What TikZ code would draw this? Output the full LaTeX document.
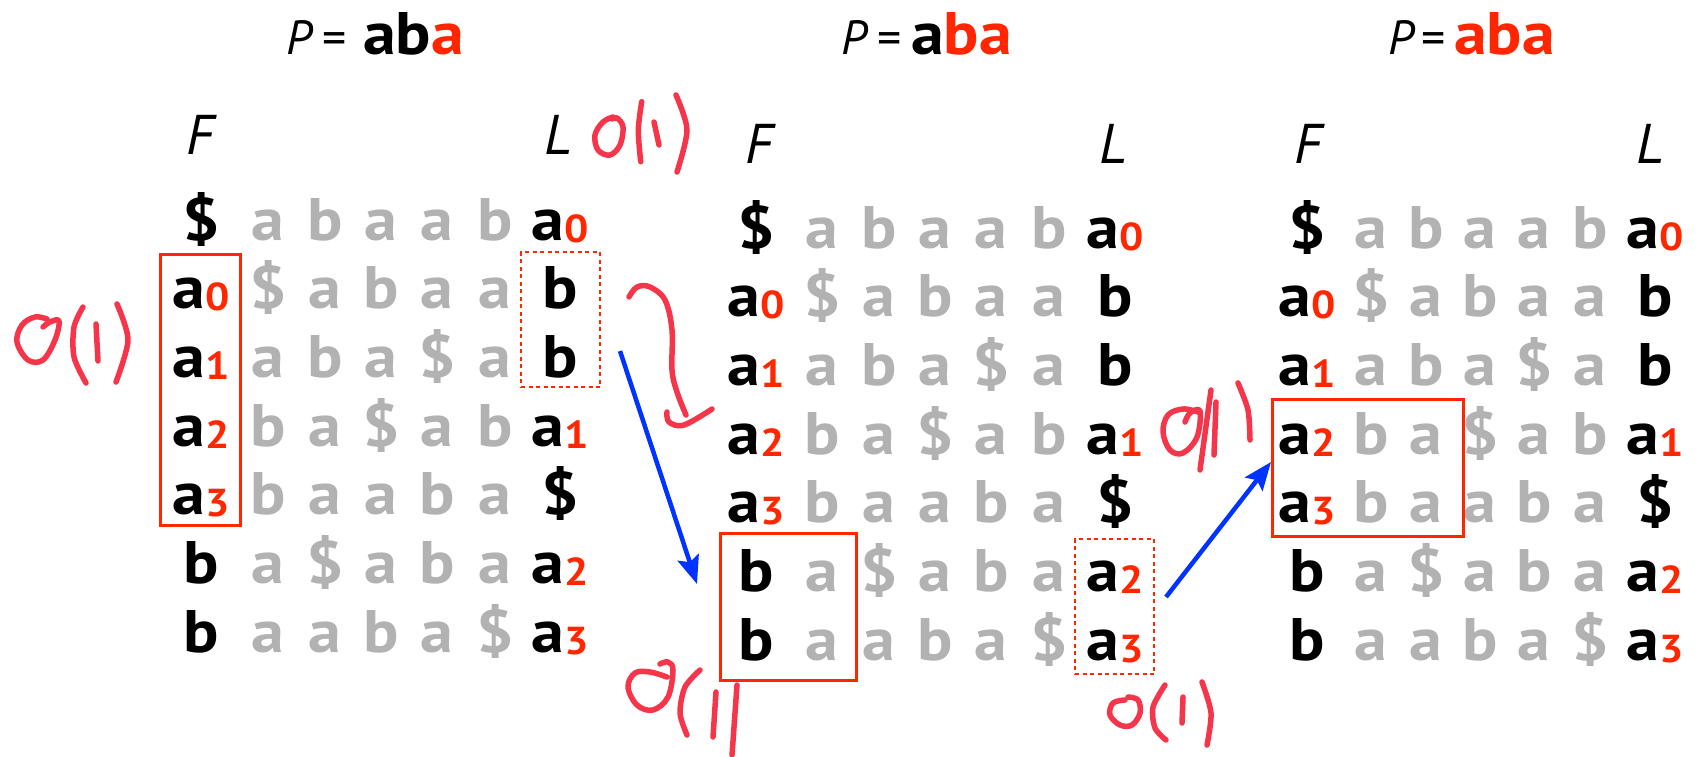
\documentclass[tikz,border=0pt]{standalone}
\usepackage{fontspec}
\setmainfont{PT Sans}
\newfontfamily\gridfam{PT Sans}[FakeStretch=1.1]
\usetikzlibrary{arrows.meta}
\definecolor{gry}{RGB}{178,178,178}
\definecolor{sub}{RGB}{255,38,0}
\definecolor{pen}{RGB}{245,54,74}
\definecolor{arrowblue}{RGB}{0,51,255}
\newcommand\gbf{\gridfam\fontsize{60}{60}\selectfont\bfseries}
\newcommand\sbn[1]{{\gridfam\fontsize{39}{39}\selectfont\bfseries\color{sub}\raisebox{-2pt}{#1}}}
\newcommand\itl{\fontsize{56}{56}\selectfont\itshape}
\newcommand\ttl{\fontsize{48}{48}\selectfont}
\newcommand\gridrow[9]{%
  \node[cell] (#1F) at (\xF,#2) {#3};
  \node[gcell] (#1a) at (\xA,#2) {#4};
  \node[gcell] (#1b) at (\xB,#2) {#5};
  \node[gcell] (#1c) at (\xC,#2) {#6};
  \node[gcell] (#1d) at (\xD,#2) {#7};
  \node[gcell] (#1e) at (\xE,#2) {#8};
  \node[cell] (#1L) at (\xL,#2) {#9};}
\newcommand\panelgrid[2]{%
  \pgfmathsetmacro\yy{#2}\gridrow{#1r1}{\yy}{\$}{a}{b}{a}{a}{b}{a\sbn{0}}%
  \pgfmathsetmacro\yy{#2+68.67}\gridrow{#1r2}{\yy}{a\sbn{0}}{\$}{a}{b}{a}{a}{b}%
  \pgfmathsetmacro\yy{#2+137.33}\gridrow{#1r3}{\yy}{a\sbn{1}}{a}{b}{a}{\$}{a}{b}%
  \pgfmathsetmacro\yy{#2+206}\gridrow{#1r4}{\yy}{a\sbn{2}}{b}{a}{\$}{a}{b}{a\sbn{1}}%
  \pgfmathsetmacro\yy{#2+274.67}\gridrow{#1r5}{\yy}{a\sbn{3}}{b}{a}{a}{b}{a}{\$}%
  \pgfmathsetmacro\yy{#2+343.33}\gridrow{#1r6}{\yy}{b}{a}{\$}{a}{b}{a}{a\sbn{2}}%
  \pgfmathsetmacro\yy{#2+412}\gridrow{#1r7}{\yy}{b}{a}{a}{b}{a}{\$}{a\sbn{3}}}
\begin{document}
\begin{tikzpicture}[x=1pt,y=-1pt,
  cell/.style={anchor=base,inner sep=0pt,font=\gbf},
  gcell/.style={cell,text=gry},
  lab/.style={anchor=base,inner sep=0pt,font=\itl},
  sbox/.style={draw=sub,line width=3pt,inner sep=0pt},
  dbox/.style={draw=sub,line width=2.8pt,inner sep=0pt,dash pattern=on 4pt off 3.5pt},
  blu/.style={draw=arrowblue,line width=4.5pt,-{Stealth[length=28pt,width=22pt,inset=5pt]}},
  penline/.style={draw=pen,line width=5.5pt,line cap=round,line join=round}]
\fill[white] (0,0) rectangle (1704,757);
\useasboundingbox (0,0) rectangle (1704,757);

% titles
\node[anchor=base west,inner sep=0pt,font=\ttl] (P1) at (286,55) {\textit{P}};
\node[anchor=base,inner sep=0pt,font=\ttl] (E1) at (334.5,55) {=};
\node[anchor=base west,inner sep=0pt,font=\gbf] (W1) at (363,55) {ab\textcolor{sub}{a}};
\node[anchor=base west,inner sep=0pt,font=\ttl] (P2) at (841,55) {\textit{P}};
\node[anchor=base,inner sep=0pt,font=\ttl] (E2) at (889.5,55) {=};
\node[anchor=base west,inner sep=0pt,font=\gbf] (W2) at (911,55) {a\textcolor{sub}{ba}};
\node[anchor=base west,inner sep=0pt,font=\ttl] (P3) at (1388,55) {\textit{P}};
\node[anchor=base,inner sep=0pt,font=\ttl] (E3) at (1434,55) {=};
\node[anchor=base west,inner sep=0pt,font=\gbf] (W3) at (1454,55) {\textcolor{sub}{aba}};

% F / L labels
\node[lab] (F1) at (200,154) {F};
\node[lab] (L1) at (558,154) {L};
\node[lab] (F2) at (759,163) {F};
\node[lab] (L2) at (1113,163) {L};
\node[lab] (F3) at (1308,163) {F};
\node[lab] (L3) at (1650,163) {L};

% grids
\def\xF{201}\def\xA{268}\def\xB{325}\def\xC{381}\def\xD{437}\def\xE{495}\def\xL{560}
\panelgrid{p1}{240}
\def\xF{756}\def\xA{822}\def\xB{879}\def\xC{935}\def\xD{991}\def\xE{1049}\def\xL{1115}
\panelgrid{p2}{248}
\def\xF{1307}\def\xA{1371}\def\xB{1426}\def\xC{1480}\def\xD{1534}\def\xE{1590}\def\xL{1655}
\panelgrid{p3}{248}

% boxes
\node[sbox,minimum width=80,minimum height=271] (b1) at (200,389.5) {};
\node[dbox,minimum width=79,minimum height=135] (d1) at (560.5,319.5) {};
\node[sbox,minimum width=136,minimum height=147] (b2) at (788,606.5) {};
\node[dbox,minimum width=79,minimum height=135] (d2) at (1114.5,606.5) {};
\node[sbox,minimum width=191,minimum height=137] (b3) at (1367.5,467.5) {};

% blue arrows
\coordinate (a1s) at (620,351);
\coordinate (a1e) at (697,584);
\coordinate (a2s) at (1166,597);
\coordinate (a2e) at (1271,462);
\draw[blu] (a1s) -- (a1e);
\draw[blu] (a2s) -- (a2e);

% handwritten O(1) marks
% left of panel 1
\draw[penline] plot[smooth,tension=0.6] coordinates {(43,327) (50,322) (59,321) (55,340) (43,360) (28,360) (17,342) (22,325) (35,317) (47,319)};
\draw[penline] plot[smooth] coordinates {(83,307) (74,327) (74,357) (86,383)};
\draw[penline] (96,324) -- (98,361);
\draw[penline] plot[smooth] coordinates {(117,304) (128,340) (116,382)};
% top, next to L of panel 1
\draw[penline] plot[smooth,tension=0.6] coordinates {(613,117) (603,122) (595,135) (598,150) (610,155) (620,145) (623,127) (617,118) (612,119)};
\draw[penline] plot[smooth] coordinates {(641.7,101.7) (638.3,130) (640.7,161.7)};
\draw[penline] (654,122) -- (659,145);
\draw[penline] plot[smooth] coordinates {(676,95) (687,130) (677,172)};
% squiggle
\draw[penline] plot[smooth,tension=0.6] coordinates {(629,297) (637,287) (650,287) (665,300) (672,330) (672,370) (677,392) (686,415)};
\draw[penline] plot[smooth,tension=0.6] coordinates {(667,412) (669,422) (684,425) (712,409)};
% bottom left of panel 2
\draw[penline] plot[smooth,tension=0.6] coordinates {(660,664) (668,662) (673,670) (668,697) (653,710) (637,705) (628,687) (635,673) (650,672) (667,677)};
\draw[penline] plot[smooth] coordinates {(700,670) (685,687) (680,713) (687,735)};
\draw[penline] (716,692) -- (713,737);
\draw[penline] (737,685) -- (732,755);
% bottom right of panel 2
\draw[penline] plot[smooth,tension=0.6] coordinates {(1125,700) (1113,703) (1110,715) (1120,725) (1132,725) (1140,713) (1138,700) (1128,697)};
\draw[penline] plot[smooth] coordinates {(1165,685) (1153,707) (1155,728) (1166,740)};
\draw[penline] (1183,697) -- (1182,723);
\draw[penline] plot[smooth] coordinates {(1202,682) (1211,713) (1207,745)};
% near panel 3 box
\draw[penline] plot[smooth,tension=0.6] coordinates {(1185,422) (1190,413) (1200,411) (1197,437) (1183,453) (1170,450) (1163,432) (1168,415) (1183,409) (1198,412)};
\draw[penline] (1211,390) -- (1200,470);
\draw[penline] (1216,402) -- (1214,455);
\draw[penline] plot[smooth] coordinates {(1238,383) (1248,410) (1250,440)};
\end{tikzpicture}
\end{document}
